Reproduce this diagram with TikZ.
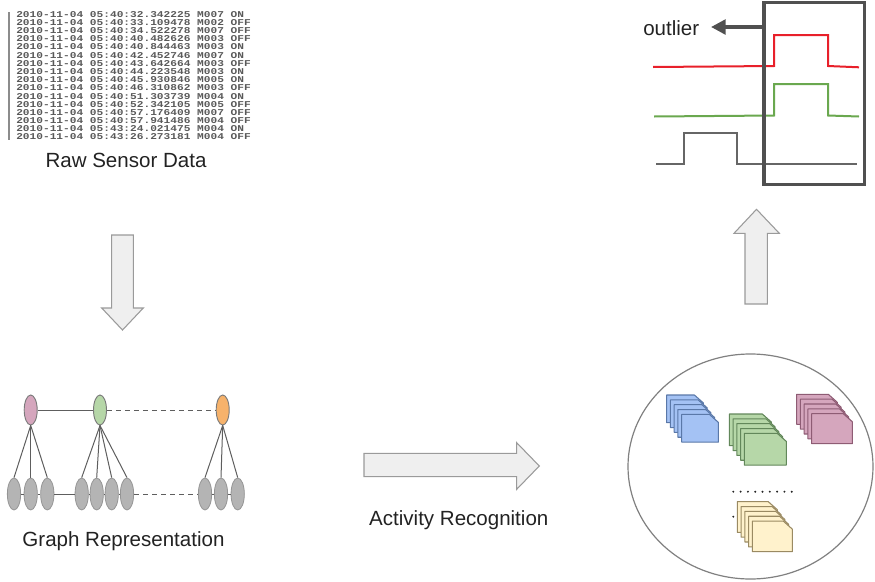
\documentclass[tikz,border=0pt]{standalone}
\usepackage{fontspec}
\setmainfont{Liberation Sans}
\newfontfamily\rawfont{Liberation Mono}[FakeStretch=1.25]
\usetikzlibrary{shapes.geometric,arrows.meta}
\definecolor{arrowfill}{HTML}{EFEFEF}
\definecolor{arrowline}{HTML}{9A9A9A}
\definecolor{gline}{HTML}{5E5E5E}
\definecolor{pinkn}{HTML}{D5A6BD}
\definecolor{greenn}{HTML}{B6D7A8}
\definecolor{orangen}{HTML}{F6B26B}
\definecolor{grayn}{HTML}{B4B4B4}
\definecolor{nodeline}{HTML}{7A7A7A}
\definecolor{sigred}{HTML}{E8202A}
\definecolor{siggreen}{HTML}{6AA84F}
\definecolor{siggray}{HTML}{666666}
\definecolor{boxline}{HTML}{505050}
\definecolor{cblue}{HTML}{A4C2F4}
\definecolor{cblueD}{HTML}{5A78A8}
\definecolor{cgreen}{HTML}{B6D7A8}
\definecolor{cgreenD}{HTML}{62875A}
\definecolor{cpink}{HTML}{D5A6BD}
\definecolor{cpinkD}{HTML}{8E5C74}
\definecolor{cyellow}{HTML}{FFF2CC}
\definecolor{cyellowD}{HTML}{9A8A62}
\definecolor{txt}{HTML}{222222}
\newcommand\mystack[6]{%
  \foreach \k in {0,...,4}{%
    \draw[draw=#6, fill=#5, line width=0.8pt, line join=round]
      ({#1+3.75*\k},{#2+4.85*\k}) -- ++({#3-9},0) -- ++(9,8) -- ++(0,{#4-8}) -- ++({-#3},0) -- cycle;
  }}
\tikzset{
  label/.style={font=\fontsize{15.4pt}{18pt}\selectfont, text=txt, inner sep=0pt},
  rawblock/.style={font=\rawfont\bfseries\fontsize{6.7pt}{6.135pt}\selectfont, text=black!65, inner sep=0pt, align=left},
  blockarrow/.style={draw=arrowline, fill=arrowfill, line width=0.8pt, line join=miter},
  topnode/.style={ellipse, draw=nodeline, line width=0.7pt, minimum width={13*0.75pt}, minimum height={30*0.75pt}, inner sep=0pt},
  botnode/.style={ellipse, draw=nodeline!80, fill=grayn, line width=0.6pt, minimum width={13.3*0.75pt}, minimum height={32*0.75pt}, inner sep=0pt},
  gedge/.style={draw=gline, line width=0.75pt},
  gdash/.style={draw=gline, line width=0.75pt, dash pattern=on 3.75pt off 3pt},
  sig/.style={line width=1.5pt, line join=miter},
}
\begin{document}
\begin{tikzpicture}[x=0.75pt,y=-0.75pt]
\useasboundingbox (0,0) rectangle (875,582);
% ---------------- raw sensor data
\draw[black!45, line width=0.8pt] (9,12) -- (9,140);
\node[rawblock, anchor=north west] (raw) at (16,11) {%
2010-11-04 05:40:32.342225 M007 ON\\
2010-11-04 05:40:33.109478 M002 OFF\\
2010-11-04 05:40:34.522278 M007 OFF\\
2010-11-04 05:40:40.482626 M003 OFF\\
2010-11-04 05:40:40.844463 M003 ON\\
2010-11-04 05:40:42.452746 M007 ON\\
2010-11-04 05:40:43.642664 M003 OFF\\
2010-11-04 05:40:44.223548 M003 ON\\
2010-11-04 05:40:45.930846 M005 ON\\
2010-11-04 05:40:46.310862 M003 OFF\\
2010-11-04 05:40:51.303739 M004 ON\\
2010-11-04 05:40:52.342105 M005 OFF\\
2010-11-04 05:40:57.176409 M007 OFF\\
2010-11-04 05:40:57.941486 M004 OFF\\
2010-11-04 05:43:24.021475 M004 ON\\
2010-11-04 05:43:26.273181 M004 OFF};
\node[label, anchor=base] (rawlbl) at (126,167) {Raw Sensor Data};
% ---------------- down arrow
\draw[blockarrow] (111.7,235) -- (133.3,235) -- (133.3,308) -- (143.3,308) -- (122.5,330) -- (101.7,308) -- (111.7,308) -- cycle;
% ---------------- graph representation
\node[topnode, fill=pinkn] (pk) at (30.7,410) {};
\node[topnode, fill=greenn] (gr) at (100,410) {};
\node[topnode, fill=orangen] (or) at (222.7,410) {};
\foreach \x [count=\i] in {14,30.7,47.3,81.7,96.7,111.7,127,205,221,237.7}{
  \node[botnode] (b\i) at (\x,494) {};
}
\draw[gedge] (pk.east) -- (gr.west);
\draw[gdash] (gr.east) -- (or.west);
\draw[gedge] (b1) -- (b2) (b2) -- (b3) (b3.east) -- (b4.west) (b4) -- (b5) (b5) -- (b6) (b6) -- (b7);
\draw[gdash] (b7.east) -- (b8.west);
\draw[gedge] (b8) -- (b9) (b9) -- (b10);
\foreach \j in {1,2,3}{\draw[gedge] (pk.south) -- (b\j.north);}
\foreach \j in {4,5,6,7}{\draw[gedge] (gr.south) -- (b\j.north);}
\foreach \j in {8,9,10}{\draw[gedge] (or.south) -- (b\j.north);}
\node[label, anchor=base] (graphlbl) at (123.5,546) {Graph Representation};
% ---------------- right arrow
\draw[blockarrow] (364,453.3) -- (516.7,453.3) -- (516.7,442.7) -- (539.3,466) -- (516.7,489.3) -- (516.7,476.7) -- (364,476.7) -- cycle;
\node[label, anchor=base] (actlbl) at (458.8,525) {Activity Recognition};
% ---------------- clusters
\draw[draw=black!50, line width=0.9pt] (750.5,466.5) ellipse [x radius=122.5, y radius=112.5];
\mystack{666.7}{395}{36.7}{27.7}{cblue}{cblueD}
\mystack{729.3}{414}{42}{31.7}{cgreen}{cgreenD}
\mystack{796.7}{394.3}{40.6}{30}{cpink}{cpinkD}
\foreach \d in {0,...,8}{\fill[black!85] ({733.3+7.3*\d},491.7) circle (1.1);}
\fill[black!85] (733.3,516.7) circle (1.1);
\mystack{737.3}{501.7}{40}{30.6}{cyellow}{cyellowD}
% ---------------- up arrow
\draw[blockarrow] (745,304) -- (745,233.3) -- (734,233.3) -- (756.5,209.3) -- (779.3,233.3) -- (767.3,233.3) -- (767.3,304) -- cycle;
% ---------------- signals
\draw[sig, sigred] (653,67) -- (774,66) -- (774,35) -- (828,35) -- (828,66) -- (859,67.3);
\draw[sig, siggreen] (654,116.5) -- (774,115.5) -- (774,84) -- (828,84) -- (828,115.5) -- (859,116.5);
\draw[sig, siggray] (656,164) -- (684,164) -- (684,133.3) -- (736.7,133.3) -- (736.7,164) -- (857.3,164);
\node[draw=boxline, line width=2.4pt, minimum width={100.5*0.75pt}, minimum height={182*0.75pt}, inner sep=0pt] (win) at (814.2,93.5) {};
\coordinate (wout) at (win.west |- 0,27);
\node[label, anchor=base west] (outl) at (643,35.5) {outlier};
\draw[draw=boxline, line width=2.6pt, -{Triangle[length=11pt,width=11pt]}] (wout) -- (711,27);
\end{tikzpicture}
\end{document}
